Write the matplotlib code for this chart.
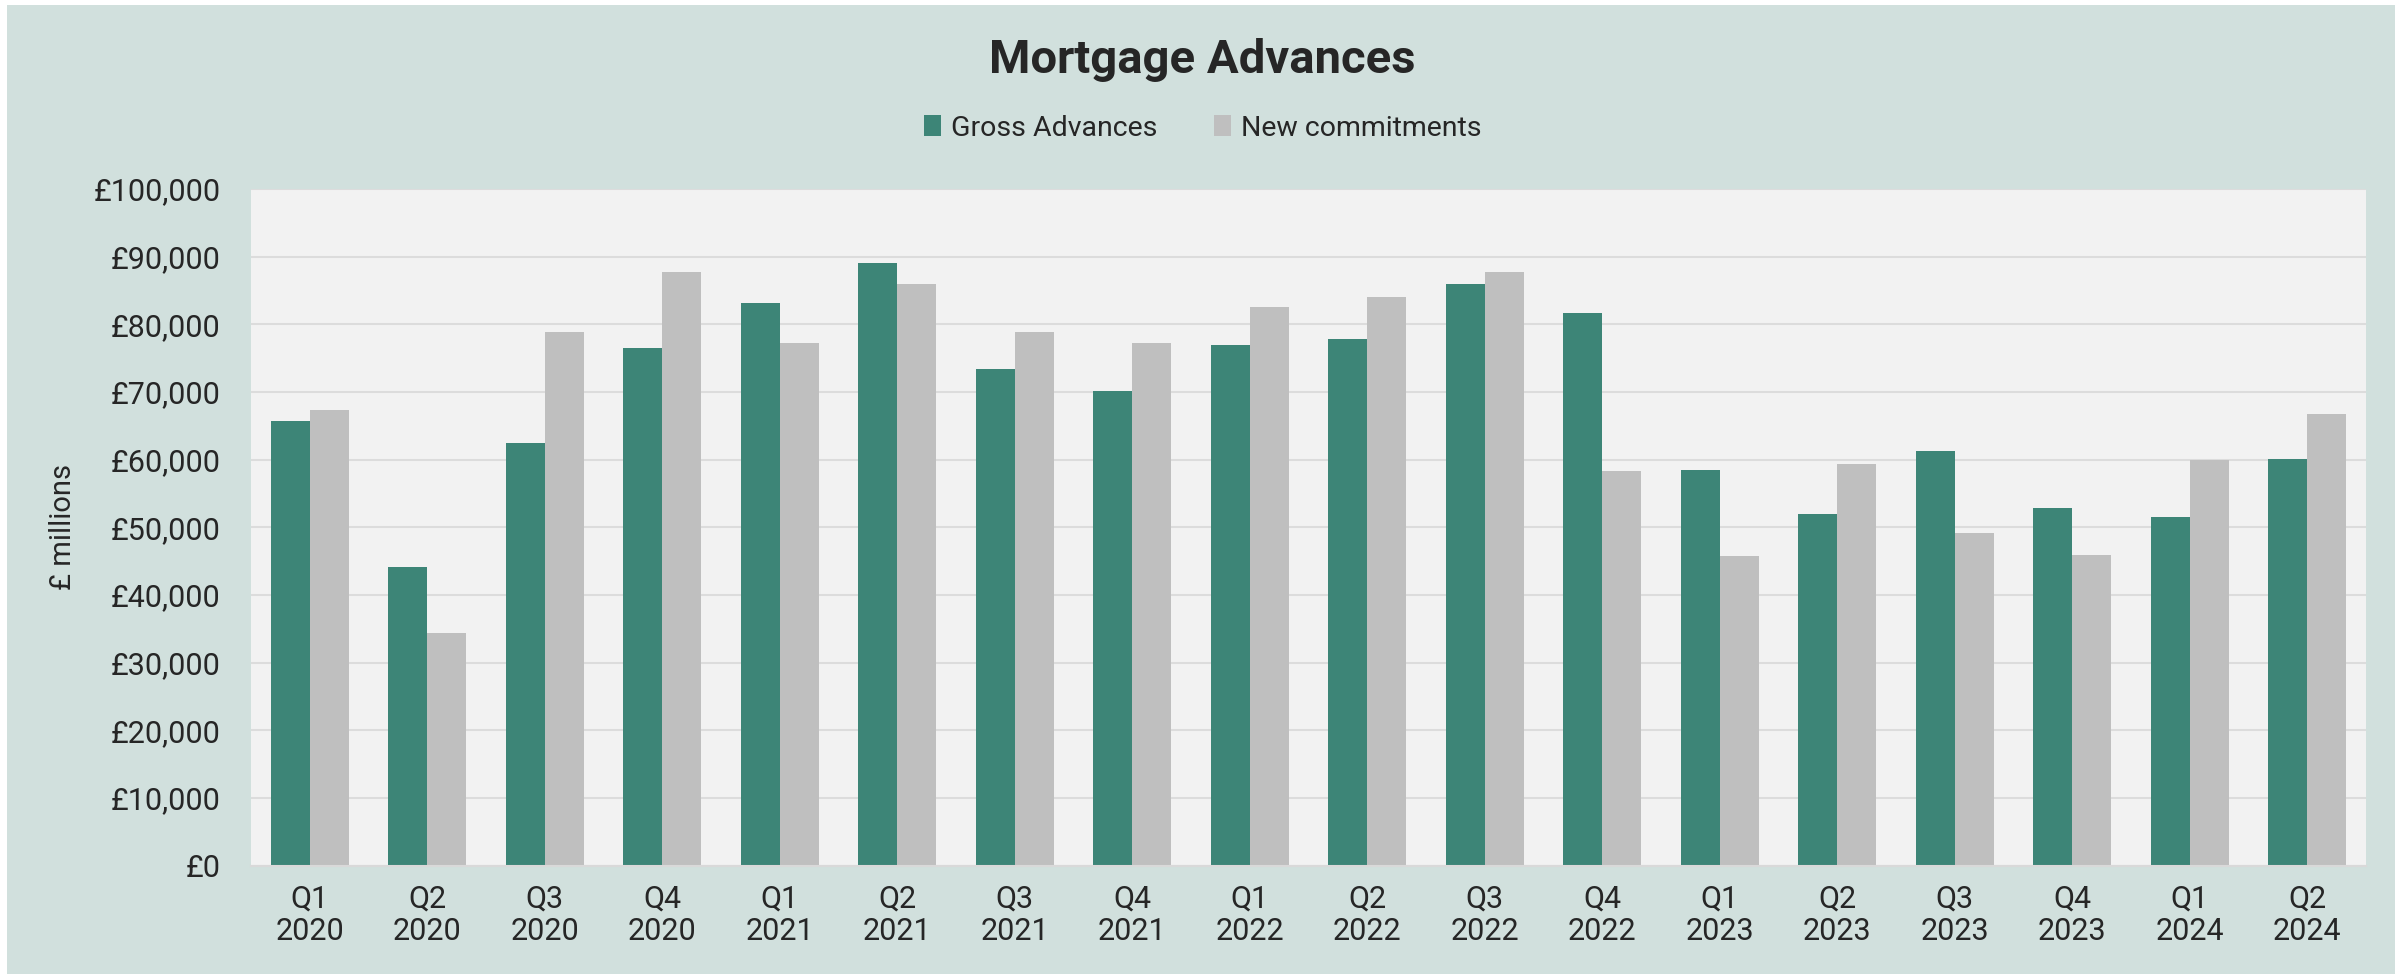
import numpy as np
import matplotlib
matplotlib.use("Agg")
import matplotlib.pyplot as plt
from matplotlib.patches import Rectangle, Patch
from matplotlib.ticker import FuncFormatter, MultipleLocator

plt.rcParams['font.family'] = ['Roboto', 'DejaVu Sans']

quarters = ["Q1\n2020", "Q2\n2020", "Q3\n2020", "Q4\n2020",
            "Q1\n2021", "Q2\n2021", "Q3\n2021", "Q4\n2021",
            "Q1\n2022", "Q2\n2022", "Q3\n2022", "Q4\n2022",
            "Q1\n2023", "Q2\n2023", "Q3\n2023", "Q4\n2023",
            "Q1\n2024", "Q2\n2024"]
gross_advances = [65700, 44100, 62400, 76500, 83100, 89100, 73400, 70200, 76900,
                  77900, 85900, 81600, 58500, 52000, 61300, 52900, 51500, 60100]
new_commitments = [67300, 34400, 78800, 87700, 77300, 86000, 78900, 77300, 82500,
                   84000, 87800, 58300, 45800, 59400, 49100, 45900, 60000, 66800]

GREEN = "#3d8577"
GREY = "#bfbfbf"
BG = "#d1e0dd"
TXT = "#262626"

fig = plt.figure(figsize=(24.05, 9.74), dpi=100, facecolor="white")
# tinted panel behind everything
fig.patches.append(Rectangle((7 / 2405, 0), (2395 - 7) / 2405, (974 - 5) / 974,
                             transform=fig.transFigure, facecolor=BG,
                             edgecolor="none", zorder=-10))

ax = fig.add_axes([251 / 2405, 108.5 / 974, (2366 - 251) / 2405, (865.5 - 189) / 974])
ax.set_facecolor("#f2f2f2")

x = np.arange(len(quarters))
w = 0.33
ax.bar(x - w / 2, gross_advances, w, color=GREEN, zorder=3, label="Gross Advances")
ax.bar(x + w / 2, new_commitments, w, color=GREY, zorder=3, label="New commitments")

ax.set_xlim(-0.5, len(quarters) - 0.5)
ax.set_ylim(0, 100000)
ax.yaxis.set_major_locator(MultipleLocator(10000))
ax.yaxis.set_major_formatter(FuncFormatter(lambda v, p: "£{:,.0f}".format(v)))
ax.set_xticks(x)
ax.set_xticklabels(quarters, linespacing=1.15)

ax.grid(axis="y", color="#dcdcdc", linewidth=1.5, zorder=1)
for s in ["top", "right", "left"]:
    ax.spines[s].set_visible(False)
ax.spines["bottom"].set_color("#d9d9d9")
ax.spines["bottom"].set_linewidth(1.5)
ax.spines["bottom"].set_zorder(4)

ax.tick_params(axis="both", length=0, labelsize=22, labelcolor=TXT)
ax.tick_params(axis="y", pad=22)
ax.tick_params(axis="x", pad=14)

ax.set_ylabel("£ millions", fontsize=21, color=TXT, labelpad=12)

fig.text(0.5, 1 - 60 / 974, "Mortgage Advances", ha="center", va="center",
         fontsize=34, fontweight="bold", color=TXT)

handles = [Patch(facecolor=GREEN, label="Gross Advances"),
           Patch(facecolor=GREY, label="New commitments")]
fig.legend(handles=handles, loc="center", bbox_to_anchor=(0.5, 1 - 128 / 974),
           ncol=2, frameon=False, fontsize=20.5, labelcolor=TXT,
           handlelength=0.6, handleheight=0.75, handletextpad=0.35,
           columnspacing=2.0)

fig.savefig("out.png", dpi=100, facecolor="white")
